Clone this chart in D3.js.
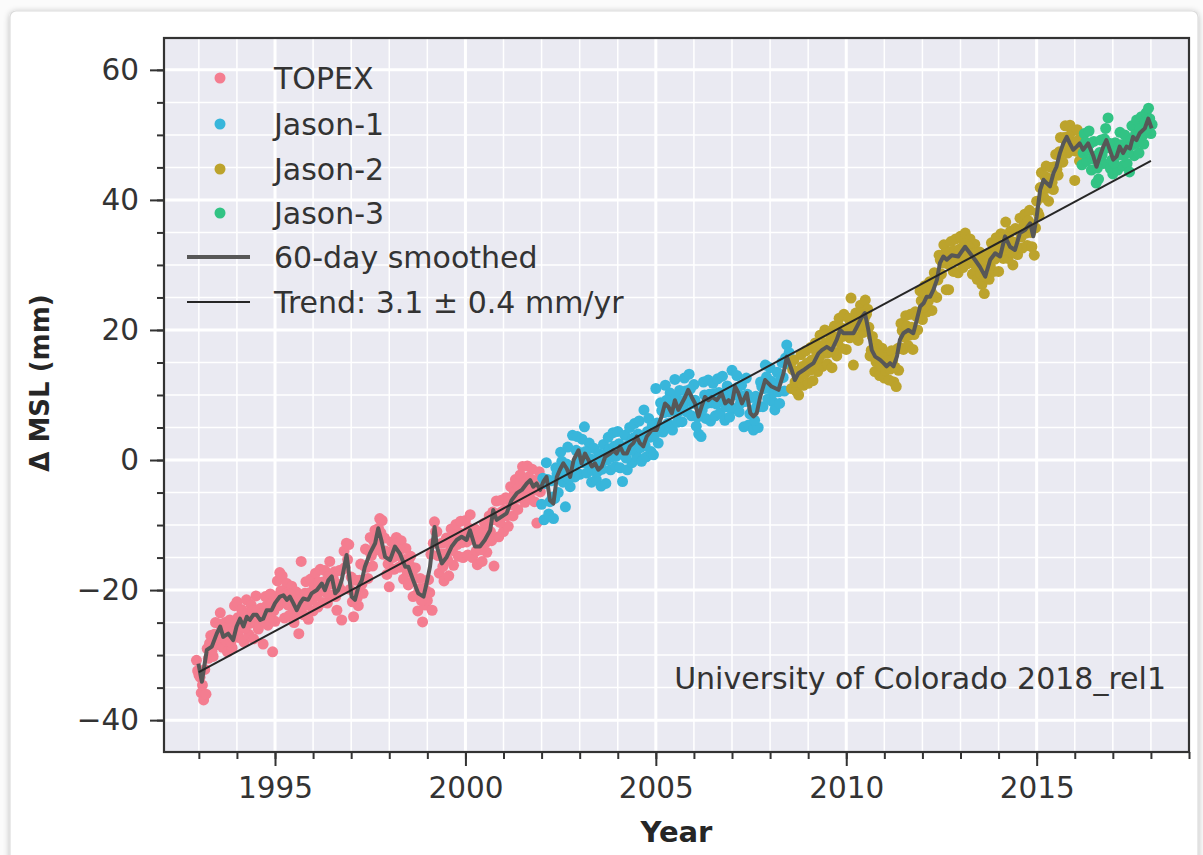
<!DOCTYPE html>
<html><head><meta charset="utf-8">
<script src="https://cdn.jsdelivr.net/npm/d3@7"></script>
<style>
html,body{margin:0;padding:0;background:#ffffff;}
svg{display:block;font-family:"DejaVu Sans",sans-serif;}
</style>
</head><body>
<svg id="chart" width="1203" height="855"></svg>
<script>
// ---------------- DATA ----------------
const seriesNames = ["TOPEX", "Jason-1", "Jason-2", "Jason-3"];
const seriesColors = ["#F47D90", "#38B6DB", "#BCA32C", "#32C384"];
// first sample time of each mission; values are listed at a fixed step (years),
// "Mid" arrays hold the samples that fall half a step later
const seriesStart = [1992.9375, 2002.0, 2008.5625, 2016.1875];
const sampleStep = 0.0625;

const topexValues = [
  -30.8,
  -33.0,-35.8,-36.9,-36.0,-30.5,-27.0,-30.2,-25.0,-28.4,-23.5,-28.8,-25.0,-29.5,-24.6,-28.9,-22.4,
  -21.8,-27.3,-23.0,-28.0,-21.5,-26.8,-22.3,-27.5,-20.9,-26.0,-22.8,-28.3,-21.0,-25.4,-20.6,-29.5,
  -24.8,-18.6,-17.3,-17.8,-24.3,-19.0,-23.9,-19.4,-25.0,-20.3,-26.7,-15.6,-23.8,-18.7,-24.5,-18.3,
  -23.2,-17.4,-22.6,-16.8,-21.9,-17.0,-22.0,-15.6,-20.8,-17.2,-23.1,-17.0,-24.6,-14.0,-12.8,-13.0,
  -18.0,-24.1,-18.5,-22.4,-16.0,-20.5,-13.7,-18.2,-11.9,-16.3,-10.8,-13.8,-9.0,-9.3,-12.0,-17.6,
  -19.5,-12.6,-16.8,-11.9,-16.5,-12.4,-18.3,-13.6,-19.2,-14.8,-21.0,-16.6,-23.2,-18.2,-24.9,-22.3,
  -21.6,-20.4,-23.1,-9.5,-11.0,-17.4,-12.8,-18.6,-12.0,-17.8,-10.6,-16.2,-9.9,-14.8,-9.4,-15.0,
  -9.3,-14.6,-8.4,-15.0,-10.6,-16.1,-11.0,-15.6,-9.7,-14.2,-8.6,-12.4,-16.3,-6.3,-11.8,-6.2,
  -11.0,-5.8,-10.2,-4.1,-8.6,-3.0,-7.6,-2.3,-1.0,-6.5,-0.9,-5.8,-1.4,-6.4,-9.7,-1.8
];
const topexMidValues = [
  -32.4,
  -33.4,-34.6,-32.2,-29.0,-28.2,-29.4,-26.8,-27.5,-25.2,-26.9,-26.2,-27.8,-26.0,-28.0,-26.3,-25.0,
  -24.2,-26.0,-24.4,-25.8,-23.5,-25.1,-23.2,-24.7,-23.1,-25.3,-23.6,-25.0,-22.4,-24.0,-22.1,-23.2,
  -21.0,-22.4,-20.1,-21.9,-20.5,-22.3,-20.6,-22.8,-21.7,-23.6,-21.4,-22.5,-20.5,-22.3,-20.4,-21.5,
  -19.5,-20.9,-18.8,-20.0,-18.7,-20.4,-17.9,-19.1,-18.2,-21.0,-19.1,-19.9,-16.8,-16.5,-15.3,-19.9,
  -21.8,-20.4,-21.2,-18.5,-19.1,-16.3,-16.5,-14.0,-14.7,-12.5,-12.8,-10.5,-11.2,-14.5,-14.0,-16.0,
  -14.2,-15.0,-12.9,-14.7,-13.8,-16.1,-15.3,-17.2,-16.1,-18.7,-18.1,-20.7,-19.8,-21.6,-19.7,-20.1,
  -18.4,-14.5,-12.8,-11.0,-14.7,-14.5,-16.4,-14.4,-15.3,-13.1,-13.9,-11.9,-13.0,-11.2,-12.7,-11.4,
  -12.6,-10.5,-12.2,-12.0,-14.0,-12.6,-13.8,-11.8,-12.7,-10.7,-11.0,-8.0,-9.2,-8.3,-9.6,-7.9,
  -7.7,-8.6,-6.3,-6.9,-4.9,-5.9,-4.2,-5.4,-3.5,-4.5,-2.6,-4.2,-3.1,-4.6,-3.2,-4.9
];
const jason1Values = [
  -6.8,-9.2,-0.4,-8.3,-3.2,-9.0,-1.2,-5.0,1.2,-3.4,-7.2,2.0,-4.1,3.8,-2.6,3.6,
  -2.2,3.2,5.1,-2.0,2.6,-3.4,1.8,-3.0,1.0,-4.0,2.4,-3.6,3.5,-1.5,4.2,-1.0,
  4.4,-1.2,-3.3,3.8,-1.5,5.0,-0.4,5.6,0.6,6.0,-0.2,7.7,0.5,6.4,1.3,0.8,
  11.0,2.6,8.8,4.3,11.5,5.6,10.3,4.6,12.4,5.8,10.7,5.9,12.6,7.4,13.2,6.8,
  11.6,5.2,4.0,3.6,12.0,6.4,12.3,6.0,11.8,6.8,12.5,7.2,12.9,6.1,11.4,6.6,
  13.8,7.9,13.0,7.4,11.5,5.1,12.6,5.4,9.6,4.6,9.8,5.0,12.0,8.2,14.6,9.4,
  14.2,9.0,7.7,13.5,8.7,15.0,10.6,17.7,16.5
];
const jason1MidValues = [
  -2.8,-3.6,-3.0,-6.4,-5.7,-5.9,-2.1,-2.4,-0.2,-1.5,-0.6,-2.9,-1.0,-0.9,1.5,0.2,
  1.1,-0.4,1.3,-0.6,0.2,-1.6,-0.1,-1.8,-0.5,-1.4,0.9,0.0,1.7,0.5,2.1,0.6,
  2.5,1.0,1.9,0.3,2.3,1.5,3.4,2.6,4.0,1.9,3.1,2.2,4.4,3.5,5.3,3.9,
  5.7,5.1,7.6,7.3,9.2,7.4,8.3,7.6,9.5,7.4,9.1,8.5,10.6,9.7,10.9,8.7,
  9.2,6.6,8.0,7.7,10.0,8.7,10.1,8.8,10.2,8.6,10.4,9.3,10.1,8.2,9.7,8.1,
  10.4,10.0,11.2,8.7,9.8,9.0,10.1,7.1,7.6,6.1,8.3,8.2,11.3,11.0,12.8,11.0,
  12.1,10.4,11.7,10.5,12.6,12.7,15.7,14.8,15.2
];
const jason2Values = [
  11.0,15.4,10.6,10.0,16.2,11.5,16.8,
  11.8,17.3,12.2,18.0,13.6,19.2,14.4,20.0,14.8,19.4,14.2,20.6,16.0,21.8,17.2,22.4,
  17.0,21.8,24.9,14.6,22.6,18.4,23.8,19.6,24.6,23.2,16.0,19.0,13.6,17.8,13.0,17.2,
  12.6,16.4,12.3,16.8,12.0,11.3,13.8,21.0,17.0,22.2,17.6,22.4,17.0,22.8,20.0,26.0,
  21.6,26.8,22.8,27.4,23.0,28.8,25.0,31.5,28.6,33.1,26.2,26.2,33.6,29.0,34.0,28.8,
  34.4,29.6,34.9,30.2,34.0,28.6,33.2,27.8,32.0,27.0,25.6,31.6,27.8,33.4,29.0,34.2,
  29.0,34.8,31.0,36.6,31.0,35.2,30.0,35.6,31.6,37.2,32.6,37.8,33.0,38.4,32.8,31.5,
  39.8,37.6,44.2,40.4,45.2,39.8,45.0,41.6,47.0,43.8,49.6,45.8,51.4,47.2,51.5,50.6,
  43.0,50.8,46.0
];
const jason2MidValues = [
  13.9,12.0,13.6,12.8,14.4,13.2,14.9,
  13.8,15.4,14.5,16.6,15.7,17.5,16.4,18.0,16.5,17.8,16.6,18.9,18.3,20.4,19.0,20.2,
  20.2,18.8,20.3,19.1,21.4,20.6,22.7,21.6,22.4,20.4,16.9,17.1,15.1,16.3,14.5,15.7,
  13.8,15.3,14.0,15.4,14.3,17.1,17.3,19.9,18.9,20.6,19.2,20.4,19.3,22.1,22.1,24.5,
  23.5,25.5,24.4,26.1,25.4,27.8,27.7,30.8,30.3,31.8,30.2,32.0,30.7,32.2,30.6,32.4,
  31.4,33.3,31.8,32.8,30.8,31.8,29.8,30.8,28.7,29.5,28.2,30.6,29.9,32.0,30.9,32.4,
  32.8,32.2,34.6,33.1,33.9,31.9,33.5,32.8,35.2,34.3,36.0,34.9,36.8,35.0,36.2,35.7,
  38.1,41.9,41.8,43.6,41.8,43.3,42.7,45.1,44.7,47.4,47.2,49.6,48.6,49.8,47.6,48.8,
  47.5,49.2,47.7
];
const jason3Values = [
  45.4,50.2,46.0,50.6,44.6,49.0,42.6,43.2,49.2,45.6,51.0,52.6,44.8,
  44.0,48.8,44.6,50.4,45.2,50.0,45.6,44.3,51.4,46.8,52.3,47.2,52.8,48.6,53.4,54.1,
  50.2
];
const jason3MidValues = [
  47.2,48.9,47.6,48.7,46.3,46.7,44.9,47.3,46.9,49.4,48.0,48.7,46.1,
  45.7,47.5,46.9,48.5,46.8,48.6,47.3,49.2,48.5,50.1,48.8,51.0,49.9,51.9,51.1,52.5,
  51.6
];

// 60-day smoothed series
const smoothYears = [1992.99,1993.08,1993.21,1993.34,1993.47,1993.56,1993.64,1993.77,1993.90,1993.99,
  1994.08,1994.17,1994.26,1994.34,1994.43,1994.52,1994.61,1994.69,1994.78,1994.91,
  1995.00,1995.13,1995.22,1995.31,1995.39,1995.48,1995.57,1995.66,1995.74,1995.87,1995.96,
  1996.10,1996.23,1996.31,1996.40,1996.49,1996.58,1996.66,1996.75,1996.88,1996.92,
  1997.01,1997.10,1997.19,1997.28,1997.36,1997.49,1997.63,1997.71,1997.80,1997.89,
  1998.02,1998.15,1998.28,1998.42,1998.50,1998.63,1998.76,1998.90,1998.98,
  1999.07,1999.19,1999.25,1999.38,1999.51,1999.64,1999.77,1999.90,
  2000.03,2000.12,2000.25,2000.38,2000.51,2000.65,2000.73,2000.82,2000.95,
  2001.08,2001.21,2001.35,2001.48,2001.61,2001.70,2001.78,2001.87,2001.96,
  2002.05,2002.13,2002.22,2002.31,2002.40,2002.48,2002.57,2002.66,2002.75,2002.84,2002.97,
  2003.05,2003.14,2003.23,2003.32,2003.40,2003.49,2003.58,2003.67,2003.80,2003.89,2003.97,
  2004.06,2004.15,2004.24,2004.32,2004.41,2004.50,2004.58,2004.67,2004.76,2004.89,
  2005.02,2005.15,2005.24,2005.33,2005.42,2005.50,2005.59,2005.68,2005.77,2005.85,2005.94,
  2006.03,2006.12,2006.20,2006.29,2006.38,2006.47,2006.60,2006.73,2006.82,2006.91,
  2007.00,2007.08,2007.17,2007.26,2007.39,2007.48,2007.56,2007.65,2007.74,2007.87,
  2008.04,2008.22,2008.35,2008.44,2008.57,2008.65,2008.74,2008.87,
  2009.01,2009.14,2009.27,2009.36,2009.49,2009.62,2009.75,2009.84,2009.93,
  2010.06,2010.19,2010.28,2010.41,2010.49,2010.58,2010.67,2010.76,2010.89,2010.98,
  2011.06,2011.15,2011.24,2011.33,2011.41,2011.50,2011.63,2011.76,2011.85,2011.94,
  2012.03,2012.11,2012.20,2012.29,2012.38,2012.46,2012.55,2012.64,2012.77,2012.94,
  2013.12,2013.25,2013.38,2013.51,2013.65,2013.78,2013.91,
  2014.04,2014.17,2014.30,2014.43,2014.56,2014.70,2014.83,2014.91,
  2015.00,2015.09,2015.18,2015.26,2015.35,2015.44,2015.52,2015.61,2015.70,2015.79,2015.87,2015.96,
  2016.05,2016.13,2016.22,2016.35,2016.49,2016.57,2016.66,2016.75,2016.83,2016.92,
  2017.01,2017.10,2017.18,2017.27,2017.36,2017.45,2017.53,2017.62,2017.71,2017.84,2017.93,2018.02];
const smoothValues = [-31.3,-34.1,-29.2,-28.7,-26.7,-25.6,-27.2,-26.7,-27.7,-25.6,
  -24.4,-25.6,-24.1,-24.6,-23.8,-23.8,-24.6,-24.4,-23.1,-23.1,
  -22.0,-21.0,-20.8,-21.5,-21.0,-22.0,-23.1,-22.0,-21.3,-21.5,-20.5,
  -20.0,-19.0,-20.0,-18.5,-17.9,-20.5,-20.0,-18.5,-14.6,-16.4,
  -21.0,-21.5,-19.5,-18.5,-16.4,-14.4,-12.8,-10.5,-12.5,-14.9,
  -15.4,-13.3,-14.4,-16.4,-16.4,-18.5,-20.5,-21.0,-19.0,
  -16.4,-10.3,-13.3,-15.9,-14.9,-13.3,-12.3,-11.8,
  -12.3,-10.8,-13.3,-13.3,-12.3,-10.8,-7.7,-9.2,-8.7,
  -8.2,-6.2,-5.1,-4.6,-3.6,-3.1,-4.1,-3.6,-4.6,
  -3.3,-2.6,-6.2,-6.7,-2.6,-1.5,-0.5,-1.3,-2.6,0.0,1.5,
  -0.5,1.0,0.0,-1.0,-0.5,-1.5,-1.0,0.5,1.0,1.5,1.0,
  2.1,1.0,1.0,2.1,2.6,3.6,2.6,2.1,3.6,4.6,
  4.6,6.7,8.7,8.2,7.2,9.2,7.7,8.7,9.7,10.8,9.7,
  8.7,6.7,8.2,9.7,9.2,9.7,9.2,10.3,8.7,9.2,
  8.7,11.3,10.3,8.7,10.3,7.2,6.7,7.2,9.7,12.3,
  11.3,10.8,13.3,15.9,13.8,12.3,13.3,13.8,
  14.4,14.9,16.4,16.9,17.4,16.9,18.5,20.0,19.5,
  19.5,19.5,20.5,22.0,22.6,20.0,16.9,15.9,15.4,14.9,
  14.4,14.9,14.4,15.9,18.5,19.5,20.0,19.5,21.5,23.6,
  24.1,25.1,25.1,26.2,27.7,30.3,31.3,30.8,31.5,31.3,
  32.8,31.8,30.8,29.7,28.2,30.8,31.8,
  31.3,34.4,32.8,32.3,34.9,35.4,36.4,34.4,
  37.4,41.5,43.1,42.6,42.1,44.1,45.1,47.2,48.7,49.7,48.7,47.7,
  48.2,48.7,47.7,48.7,46.7,45.1,46.7,48.2,49.2,47.7,
  46.2,46.7,48.2,47.2,48.2,47.9,49.7,49.2,50.3,51.0,52.5,51.0];

// linear trend (end points)
const trendYears = [1993.0, 2018.0];
const trendValues = [-32.6, 46.0];

const legendLabels = ["60-day smoothed", "Trend: 3.1 \u00b1 0.4 mm/yr"];
const xMajorTicks = [1995, 2000, 2005, 2010, 2015];
const xMinorTicks = d3.range(1993, 2020, 1);
const yMajorTicks = [-40, -20, 0, 20, 40, 60];
const yMinorTicks = d3.range(-40, 65, 5);
const xLabel = "Year";
const yLabel = "\u0394 MSL (mm)";
const creditText = "University of Colorado 2018_rel1";

// ---------------- DRAW ----------------
const svg = d3.select("#chart");
const W = 1203, H = 855;
const plot = {left: 164, top: 38, right: 1189, bottom: 752};
const textColor = "#333333";
const tickFont = 29.5;
const legendFont = 30;

const defs = svg.append("defs");
const f = defs.append("filter").attr("id", "shadow").attr("x", "-5%").attr("y", "-5%").attr("width", "110%").attr("height", "110%");
f.append("feGaussianBlur").attr("in", "SourceAlpha").attr("stdDeviation", 3).attr("result", "b");
f.append("feOffset").attr("in", "b").attr("dx", 0).attr("dy", 1).attr("result", "o");
f.append("feComponentTransfer").attr("in", "o").attr("result", "o2")
  .append("feFuncA").attr("type", "linear").attr("slope", 0.25);
const fm = f.append("feMerge");
fm.append("feMergeNode").attr("in", "o2");
fm.append("feMergeNode").attr("in", "SourceGraphic");

svg.append("rect").attr("width", W).attr("height", H).attr("fill", "#fbfbfb");
svg.append("rect").attr("x", 10).attr("y", 11).attr("width", 1188).attr("height", 870)
  .attr("rx", 6).attr("fill", "#ffffff").attr("stroke", "#dcdcdc").attr("stroke-width", 1.2)
  .attr("filter", "url(#shadow)");

const x = d3.scaleLinear().domain([1992.085, 2019.0]).range([plot.left, plot.right]);
const y = d3.scaleLinear().domain([-44.9, 64.9]).range([plot.bottom, plot.top]);

defs.append("clipPath").attr("id", "clip").append("rect")
  .attr("x", plot.left).attr("y", plot.top)
  .attr("width", plot.right - plot.left).attr("height", plot.bottom - plot.top);

svg.append("rect").attr("x", plot.left).attr("y", plot.top)
  .attr("width", plot.right - plot.left).attr("height", plot.bottom - plot.top)
  .attr("fill", "#EAEAF2");

// grid
const grid = svg.append("g");
grid.selectAll("line.vmin").data(xMinorTicks.filter(d => !xMajorTicks.includes(d) && x(d) < plot.right)).join("line")
  .attr("x1", d => x(d)).attr("x2", d => x(d)).attr("y1", plot.top).attr("y2", plot.bottom)
  .attr("stroke", "#ffffff").attr("stroke-width", 1.5);
grid.selectAll("line.hmin").data(yMinorTicks.filter(d => !yMajorTicks.includes(d))).join("line")
  .attr("y1", d => y(d)).attr("y2", d => y(d)).attr("x1", plot.left).attr("x2", plot.right)
  .attr("stroke", "#ffffff").attr("stroke-width", 1.5);
grid.selectAll("line.vmaj").data(xMajorTicks).join("line")
  .attr("x1", d => x(d)).attr("x2", d => x(d)).attr("y1", plot.top).attr("y2", plot.bottom)
  .attr("stroke", "#ffffff").attr("stroke-width", 3);
grid.selectAll("line.hmaj").data(yMajorTicks).join("line")
  .attr("y1", d => y(d)).attr("y2", d => y(d)).attr("x1", plot.left).attr("x2", plot.right)
  .attr("stroke", "#ffffff").attr("stroke-width", 3);

// scatter
const mainSets = [topexValues, jason1Values, jason2Values, jason3Values];
const midSets = [topexMidValues, jason1MidValues, jason2MidValues, jason3MidValues];
const pts = svg.append("g").attr("clip-path", "url(#clip)");
mainSets.forEach((vals, si) => {
  const recs = vals.map((v, i) => ({t: seriesStart[si] + i * sampleStep, v}))
    .concat(midSets[si].map((v, i) => ({t: seriesStart[si] + (i + 0.5) * sampleStep, v})));
  pts.selectAll(null).data(recs).join("circle")
    .attr("cx", d => x(d.t)).attr("cy", d => y(d.v)).attr("r", 5.5)
    .attr("fill", seriesColors[si]);
});

// smoothed line
const smoothData = smoothYears.map((t, i) => ({t, v: smoothValues[i]}));
const line = d3.line().x(d => x(d.t)).y(d => y(d.v));
svg.append("path").datum(smoothData).attr("d", line)
  .attr("fill", "none").attr("stroke", "#575757").attr("stroke-width", 4)
  .attr("stroke-linejoin", "round");

// trend line
const trendData = trendYears.map((t, i) => ({t, v: trendValues[i]}));
svg.append("path").datum(trendData).attr("d", line)
  .attr("fill", "none").attr("stroke", "#262626").attr("stroke-width", 2);

// spines
svg.append("rect").attr("x", plot.left).attr("y", plot.top)
  .attr("width", plot.right - plot.left).attr("height", plot.bottom - plot.top)
  .attr("fill", "none").attr("stroke", "#333333").attr("stroke-width", 2.2);

// axes
function styleAxis(g) {
  g.select(".domain").remove();
  g.selectAll(".tick line").attr("stroke", "#333333").attr("stroke-width", 2);
  g.selectAll("text").attr("fill", textColor).attr("font-size", tickFont)
    .attr("font-family", "DejaVu Sans, sans-serif");
}
svg.append("g").attr("transform", `translate(0,${plot.bottom})`)
  .call(d3.axisBottom(x).tickValues(xMinorTicks).tickSize(7).tickFormat(""))
  .call(styleAxis);
svg.append("g").attr("transform", `translate(0,${plot.bottom})`)
  .call(d3.axisBottom(x).tickValues(xMajorTicks).tickSize(14).tickPadding(11).tickFormat(d3.format("d")))
  .call(styleAxis);
svg.append("g").attr("transform", `translate(${plot.left},0)`)
  .call(d3.axisLeft(y).tickValues(yMinorTicks).tickSize(7).tickFormat(""))
  .call(styleAxis);
svg.append("g").attr("transform", `translate(${plot.left},0)`)
  .call(d3.axisLeft(y).tickValues(yMajorTicks).tickSize(14).tickPadding(11).tickFormat(d3.format("d")))
  .call(styleAxis);

// axis labels
svg.append("text").attr("x", (plot.left + plot.right) / 2).attr("y", 842)
  .attr("text-anchor", "middle").attr("font-size", 29).attr("font-weight", "bold")
  .attr("fill", "#262626").text(xLabel);
svg.append("text").attr("transform", `translate(49,383) rotate(-90)`)
  .attr("text-anchor", "middle").attr("font-size", 26).attr("font-weight", "bold")
  .attr("fill", "#262626").text(yLabel);

// legend
const lg = svg.append("g");
const legendRowY = [78, 124, 169, 213, 257, 302];
seriesNames.forEach((name, i) => {
  lg.append("circle").attr("cx", 220).attr("cy", legendRowY[i]).attr("r", 5.5).attr("fill", seriesColors[i]);
  lg.append("text").attr("x", 274).attr("y", legendRowY[i]).attr("dy", "0.36em")
    .attr("font-size", legendFont).attr("fill", textColor).text(name);
});
[["#575757", 4], ["#262626", 2]].forEach((s, j) => {
  const yy = legendRowY[4 + j];
  lg.append("line").attr("x1", 187).attr("x2", 250).attr("y1", yy).attr("y2", yy)
    .attr("stroke", s[0]).attr("stroke-width", s[1]);
  lg.append("text").attr("x", 274).attr("y", yy).attr("dy", "0.36em")
    .attr("font-size", legendFont).attr("fill", textColor).text(legendLabels[j]);
});

// credit
svg.append("text").attr("x", 1166).attr("y", 678).attr("dy", "0.36em")
  .attr("text-anchor", "end").attr("font-size", legendFont).attr("fill", textColor).text(creditText);
</script>
</body></html>
